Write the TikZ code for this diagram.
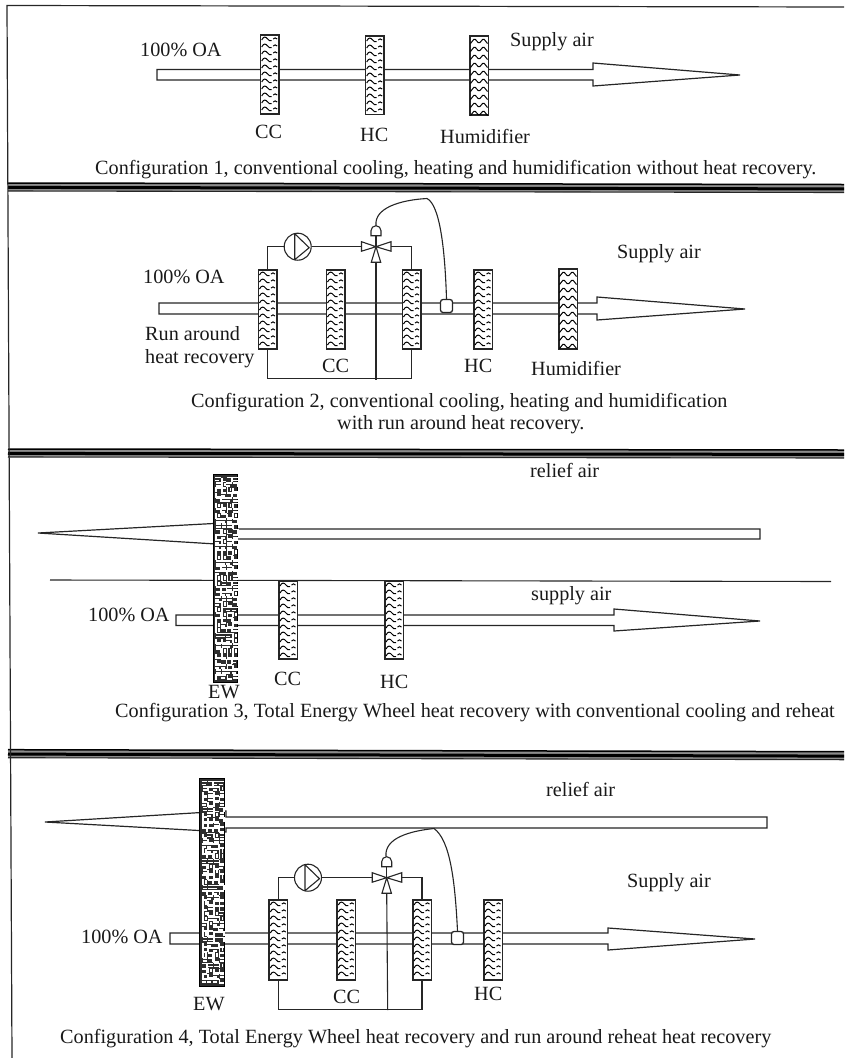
\documentclass[tikz,border=0pt]{standalone}
\usepackage{fontspec}
\setmainfont{Liberation Serif}
\begin{document}
\begin{tikzpicture}[x=1pt,y=-1pt,
  lbl/.style={font=\fontsize{20.2}{23}\selectfont,inner sep=0pt,anchor=base west,text=black!90},
  ln/.style={line width=1.1pt,draw=black!85},
  duct/.style={line width=1.2pt,draw=black!85,fill=white,line join=miter},
  coilbox/.style={line width=1.5pt,draw=black!85,fill=white,rectangle,inner sep=0pt,minimum width=18.5pt},
  ewbox/.style={line width=1pt,draw=black,fill=black!82,rectangle,inner sep=0pt},
  wave/.style={line width=1pt,draw=black},
  maze/.style={line width=1.8pt,white,line cap=butt}]
\useasboundingbox (0,0) rectangle (844,1058);
\newcommand{\coil}[4]{% name, x, top, bottom
  \node[coilbox,minimum height={(#4)-(#3)},anchor=north] (#1) at (#2,#3) {};
  \pgfmathsetmacro{\ns}{int(((#4)-(#3)-7)/7)}
  \foreach \i in {0,...,\ns}{
    \pgfmathsetmacro{\yy}{#3+5+\i*7}
    \draw[wave] (#2-8,\yy+1) .. controls (#2-6,\yy-3) and (#2-4,\yy-2.5) .. (#2-2,\yy) .. controls (#2-1,\yy+1.5) and (#2+.5,\yy+2.5) .. (#2+2,\yy+1.5);
    \draw[wave] (#2+3.5,\yy) .. controls (#2+5,\yy-1.5) and (#2+6,\yy-1.5) .. (#2+7.5,\yy);
  }}
\newcommand{\humid}[4]{%
  \node[coilbox,minimum height={(#4)-(#3)},anchor=north] (#1) at (#2,#3) {};
  \pgfmathsetmacro{\ns}{int(((#4)-(#3)-6)/8)}
  \foreach \i in {0,...,\ns}{
    \pgfmathsetmacro{\yy}{#3+6+\i*8}
    \draw[wave,rounded corners=1.2pt] (#2-8.5,\yy+2.5) -- (#2-4.5,\yy-2.5) -- (#2,\yy+2.5) -- (#2+4.5,\yy-2.5) -- (#2+8.5,\yy+2.5);
  }}
\newcommand{\wheel}[4]{%
  \node[ewbox,minimum width=24.5pt,minimum height={(#4)-(#3)},anchor=north] (#1) at (#2,#3) {};
  \pgfmathsetseed{#3}
  \pgfmathsetmacro{\nr}{int(((#4)-(#3)-7)/5.2)}
  \foreach \r in {0,...,\nr}{
    \foreach \c in {0,...,3}{
      \pgfmathsetmacro{\px}{#2-9.3+\c*5.6}
      \pgfmathsetmacro{\py}{#3+3.5+\r*5.2}
      \pgfmathrandominteger{\kk}{0}{5}
      \ifcase\kk
        \draw[maze] (\px-1,\py) -- (\px+4.6,\py) (\px-1,\py+3) -- (\px+3,\py+3);
      \or
        \draw[maze] (\px,\py-1) -- (\px,\py+4.6) (\px+3,\py) -- (\px+3,\py+3.5);
      \or
        \draw[maze] (\px-.5,\py) -- (\px+4.6,\py) -- (\px+4.6,\py+4);
      \or
        \draw[maze] (\px,\py+4.5) -- (\px,\py) -- (\px+4.6,\py);
      \or
        \draw[maze] (\px,\py) -- (\px+4.6,\py) (\px,\py+3) -- (\px+4.6,\py+3);
      \or
        \draw[maze] (\px,\py) -- (\px,\py+4) -- (\px+4.6,\py+4);
      \fi
    }}}
% arrow: name, x0, ytop, ybot, xbase, yflaretop, yflarebot, xtip, ytip
\newcommand{\airflow}[9]{%
  \draw[duct] (#2,#3) -- (#5,#3) -- (#5,#6) -- (#8,#9) -- (#5,#7) -- (#5,#4) -- (#2,#4) -- cycle;}
\newcommand{\pump}[3]{%
  \node[circle,draw=black!85,line width=1.1pt,fill=white,minimum size=27pt,inner sep=0pt] (#1) at (#2,#3) {};
  \draw[ln,line join=round] (#2-3,#3-13) -- (#2+11.5,#3+1) -- (#2-3,#3+13) -- cycle;}
\newcommand{\valve}[3]{%
  \coordinate (#1) at (#2,#3);
  \draw[ln,fill=white] (#2,#3) -- (#2-14.5,#3-5) -- (#2-14.5,#3+4.5) -- cycle;
  \draw[ln,fill=white] (#2,#3) -- (#2+15,#3-5) -- (#2+15,#3+4.5) -- cycle;
  \draw[ln,fill=white] (#2,#3) -- (#2-4.7,#3+15.5) -- (#2+4.7,#3+15.5) -- cycle;
  \draw[ln] (#2,#3) -- (#2,#3-11);
  \draw[ln,fill=white] (#2-5,#3-11) -- (#2-5,#3-16) arc[start angle=180,end angle=360,radius=5] -- (#2+5,#3-11) -- cycle;}
\newcommand{\sensor}[3]{%
  \node[rectangle,rounded corners=2.5pt,draw=black!85,line width=1.3pt,fill=white,minimum width=12pt,minimum height=13pt,inner sep=0pt] (#1) at (#2,#3) {};}
% frame
\coordinate (fTL) at (7,5.5);\coordinate (fTR) at (844,7);
\coordinate (fBL) at (12,1058);
% double rules
\foreach \y/\d/\n in {183/1.5/a,449/1/b,749.7/2/c}{
  \coordinate (r\n1) at (8,\y); \coordinate (r\n1e) at (844,\y+\d);
  \coordinate (r\n2) at (8,\y+4.4); \coordinate (r\n2e) at (844,\y+4.4+\d);
  \coordinate (r\n3) at (8,\y+8); \coordinate (r\n3e) at (844,\y+8+\d);
  \fill[black!45] (r\n1) -- (r\n1e) -- (r\n3e) -- (r\n3) -- cycle;
  \draw[line width=1.5pt,black] (r\n1) -- (r\n1e);
  \draw[line width=3pt,black] (r\n2) -- (r\n2e);
  \draw[line width=1.1pt,black!85] (r\n3) -- (r\n3e);
}
\draw[line width=1.2pt,black!85] (fTR) -- (fTL) -- (fBL);
% ---- Config 1
\airflow{a1}{157}{69.5}{80}{593}{63}{86}{740}{75}
\coil{c1a}{269.7}{34}{113}
\coil{c1b}{374.7}{35}{113.5}
\humid{c1c}{479}{35}{114}
\node[lbl] (t1a) at (140,56) {100\% OA};
\node[lbl] (t1b) at (510,46) {Supply air};
\node[lbl] (t1c) at (255,138) {CC};
\node[lbl] (t1d) at (360,141) {HC};
\node[lbl] (t1e) at (440,143) {Humidifier};
\node[lbl] (t1f) at (95,174) {Configuration 1, conventional cooling, heating and humidification without heat recovery.};
% ---- Config 2
\airflow{a2}{159}{303}{314}{597}{297}{320}{745}{309}
\coil{c2a}{267.5}{269}{348}
\coil{c2b}{335.5}{269}{348}
\coil{c2c}{411.5}{269}{348}
\coil{c2d}{483}{269}{348}
\humid{c2e}{568}{268}{348}
\sensor{s2}{446.5}{306}
\pump{p2}{297.7}{246.7}
\valve{v2}{376}{246.7}
\coordinate (j2a) at (267.5,378.5);\coordinate (j2b) at (411.5,378.5);\coordinate (j2c) at (376,380);
\coordinate (v2l) at (361.5,246.7);\coordinate (v2r) at (391,246.7);\coordinate (v2b) at (376,262.2);\coordinate (v2t) at (376,225.7);
\draw[ln] (c2a.north) |- (p2.west);
\draw[ln] (p2.east) -- (v2l);
\draw[ln] (v2r) -| (c2c.north);
\draw[ln] (c2a.south) -- (j2a) -- (j2b) -- (c2c.south);
\draw[ln] (v2b) -- (j2c);
\draw[ln] (s2.north) .. controls (445,250) and (440,205) .. (427,198.5) .. controls (400,200) and (374,208) .. (v2t);
\node[lbl] (t2a) at (143,283) {100\% OA};
\node[lbl] (t2b) at (617,258) {Supply air};
\node[lbl] (t2c) at (145,340) {Run around};
\node[lbl] (t2d) at (145,363) {heat recovery};
\node[lbl] (t2e) at (322,372) {CC};
\node[lbl] (t2f) at (464,372) {HC};
\node[lbl] (t2g) at (531,375) {Humidifier};
\node[lbl] (t2h) at (191,407) {Configuration 2, conventional cooling, heating and humidification};
\node[lbl] (t2i) at (337,429) {with run around heat recovery.};
% ---- Config 3
\airflow{a3}{760}{529}{539}{232}{522.5}{545}{38}{533}
\coordinate (l3a) at (50,580);\coordinate (l3b) at (831,581.5);
\draw[ln] (l3a) -- (l3b);
\airflow{a3b}{176}{615}{625.5}{614}{609}{631}{760}{621}
\wheel{w3}{225.5}{474}{682}
\coil{c3a}{288}{580}{658}
\coil{c3b}{394}{580}{658}
\node[lbl] (t3a) at (88,621) {100\% OA};
\node[lbl] (t3b) at (530,477) {relief air};
\node[lbl] (t3c) at (531,600) {supply air};
\node[lbl] (t3d) at (208,698) {EW};
\node[lbl] (t3e) at (274,685) {CC};
\node[lbl] (t3f) at (380,688) {HC};
\node[lbl] (t3g) at (115,717) {Configuration 3, Total Energy Wheel heat recovery with conventional cooling and reheat};
% ---- Config 4
\airflow{a4}{767}{817}{828}{226}{811}{832}{45}{822}
\airflow{a4b}{170}{933}{944}{608}{928}{950}{755}{939}
\wheel{w4}{212}{778}{986}
\coil{c4a}{278.3}{899}{979}
\coil{c4b}{346.3}{899}{979}
\coil{c4c}{422}{899}{979}
\coil{c4d}{493}{899}{979}
\sensor{s4}{457.5}{938}
\pump{p4}{308}{877.7}
\valve{v4}{386.7}{877.7}
\coordinate (j4a) at (278.3,1009.3);\coordinate (j4b) at (422,1009.3);\coordinate (j4c) at (387.7,1010);
\coordinate (v4l) at (372.2,877.7);\coordinate (v4r) at (401.7,877.7);\coordinate (v4b) at (386.7,893.2);\coordinate (v4t) at (386,856.7);
\draw[ln] (c4a.north) |- (p4.west);
\draw[ln] (p4.east) -- (v4l);
\draw[ln] (v4r) -| (c4c.north);
\draw[ln] (c4a.south) -- (j4a) -- (j4b) -- (c4c.south);
\draw[ln] (v4b) -- (j4c);
\draw[ln] (s4.north) .. controls (455,880) and (450,840) .. (434,828.5) .. controls (410,831) and (384,838) .. (v4t);
\node[lbl] (t4a) at (81,943) {100\% OA};
\node[lbl] (t4b) at (546,796) {relief air};
\node[lbl] (t4c) at (627,887) {Supply air};
\node[lbl] (t4d) at (193,1010) {EW};
\node[lbl] (t4e) at (333,1003) {CC};
\node[lbl] (t4f) at (474,1000) {HC};
\node[lbl] (t4g) at (60,1043) {Configuration 4, Total Energy Wheel heat recovery and run around reheat heat recovery};
\end{tikzpicture}
\end{document}
